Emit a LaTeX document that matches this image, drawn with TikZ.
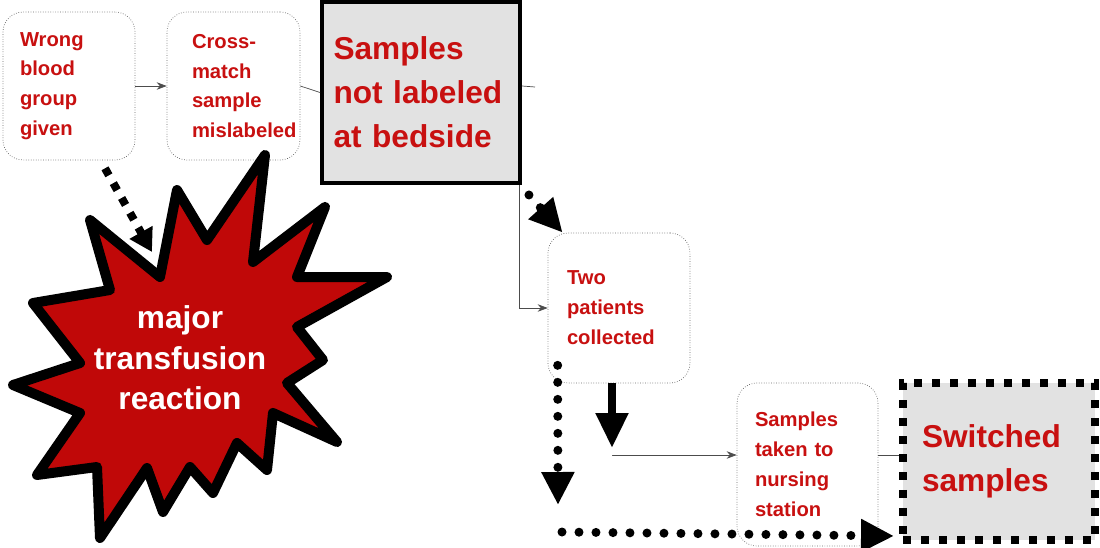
\documentclass[tikz,border=0pt]{standalone}
\usepackage{fontspec}
\setmainfont{Liberation Sans}
\usetikzlibrary{arrows.meta}
\definecolor{txtred}{RGB}{200,16,16}
\definecolor{bangred}{RGB}{192,8,8}
\definecolor{sheet}{RGB}{226,226,226}
\tikzset{
  smallbox/.style={draw=black!60, densely dotted, rounded corners=0.4cm, align=left, text=txtred, font=\bfseries\fontsize{11.5}{17}\selectfont},
  bigbox/.style={fill=sheet, align=left, text=txtred, font=\bfseries\fontsize{18}{25}\selectfont},
  dotline/.style={line width=0.18cm, line cap=round, dash pattern=on 0pt off 0.34cm},
  bighead/.style={-{Triangle[width=0.62cm,length=0.66cm]}},
}
\begin{document}
\begin{tikzpicture}[x=0.02cm, y=-0.02cm]
    \path[use as bounding box, fill=white] (0,0) rectangle (1100,548);

    \node[smallbox, minimum width=2.64cm, minimum height=2.96cm, text width=1.96cm, inner xsep=0.34cm] (wrong) at (69,86) {Wrong\\blood\\group\\given};
    \node[smallbox, minimum width=2.66cm, minimum height=2.96cm, text width=1.66cm, inner xsep=0.5cm] (cross) at (233.5,86) {Cross-\\match\\sample\\mislabeled};
    \node[bigbox, draw, line width=0.08cm, minimum width=3.96cm, minimum height=3.62cm, text width=3.5cm, inner xsep=0.23cm] (bedside) at (421,92.5) {Samples\\not labeled\\at bedside};
    \node[smallbox, minimum width=2.84cm, minimum height=3.0cm, text width=2.08cm, inner xsep=0.38cm] (twopat) at (619,308) {Two\\patients\\collected};
    \node[smallbox, minimum width=2.82cm, minimum height=3.26cm, text width=2.1cm, inner xsep=0.36cm] (nursing) at (807.5,464.5) {Samples\\taken to\\nursing\\station};
    \node[bigbox, draw, line width=0.16cm, dash pattern=on 0.16cm off 0.2cm, minimum width=3.84cm, minimum height=3.14cm, text width=3.08cm, inner xsep=0.38cm] (switched) at (999,461.5) {Switched\\samples};

    \coordinate (stub) at (535,87);
    \coordinate (bend) at (612,455);
    \coordinate (drop) at (558,505);
    \coordinate (row) at (562,532);
    \coordinate (hit) at (152,252);

    \draw[black!70, -{Stealth[length=0.2cm]}] (wrong.east) -- (cross.west);
    \draw[black!70] (cross.east) -- (bedside.west);
    \draw[black!70] (cross.east -| bedside.east) -- (stub);
    \draw[black!70, -{Stealth[length=0.2cm]}] ([xshift=-0.06cm]bedside.south east) |- (twopat.west);
    \draw[black!70, -{Stealth[length=0.2cm]}] (bend) |- ([yshift=0.19cm]nursing.west);
    \draw[black!70] (nursing.east |- bend) -- (switched.west |- bend);

    %star%
    \draw[line width=0.2cm, fill=bangred, line join=round] (265,155) -- (253,262) -- (325,207) -- (297,277) -- (387,277) -- (297,327) -- (323,360) -- (287,383) -- (337,442) -- (273,413) -- (267,470) -- (237,443) -- (213,493) -- (190,467) -- (163,512) -- (147,468) -- (100,538) -- (97,467) -- (37,475) -- (80,413) -- (13,385) -- (80,363) -- (33,303) -- (110,290) -- (90,220) -- (160,277) -- (177,190) -- (207,240) -- cycle;
    \node[text=white, align=center, font=\bfseries\fontsize{18}{23}\selectfont] (reaction) at (180,358) {major\\transfusion\\reaction};

    \draw[line width=0.16cm, dash pattern=on 0.16cm off 0.18cm, -{Triangle[width=0.5cm,length=0.45cm]}] ([xshift=0.72cm,yshift=-0.16cm]wrong.south) -- (hit);
    \draw[dotline, bighead] ([xshift=0.14cm,yshift=-0.2cm]bedside.south east) -- ([xshift=0.3cm]twopat.north west);
    \draw[line width=0.16cm, -{Triangle[width=0.62cm,length=0.7cm]}] (twopat.south -| bend) -- ([yshift=0.14cm]bend);
    \draw[dotline, bighead] ([xshift=0.2cm,yshift=0.36cm]twopat.south west) -- (drop);
    \draw[dotline, bighead] (row) -- ([xshift=-0.1cm,yshift=0.16cm]switched.south west);
\end{tikzpicture}
\end{document}
